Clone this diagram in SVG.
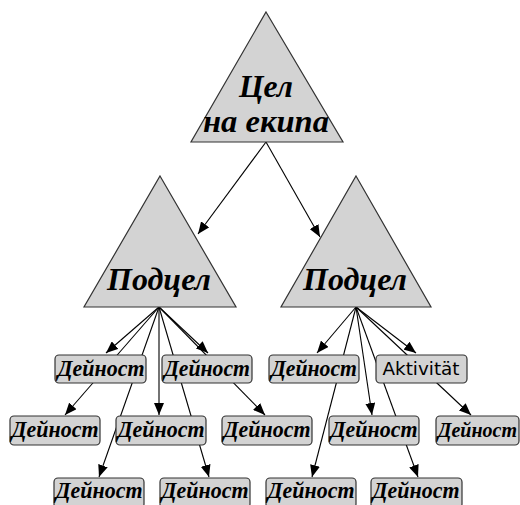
<svg xmlns="http://www.w3.org/2000/svg" width="520" height="505" viewBox="0 0 520 505">
<defs>
<style>
.tri{fill:#d3d3d3;stroke:#333;stroke-width:1.2}
.box{fill:#d3d3d3;stroke:#333;stroke-width:1.2}
.big{font-family:"Liberation Serif","Times New Roman",serif;font-weight:bold;font-style:italic;font-size:32px;fill:#000;text-anchor:middle}
.act{font-family:"Liberation Serif","Times New Roman",serif;font-weight:bold;font-style:italic;font-size:24px;fill:#000;text-anchor:middle}
.sans{font-family:"DejaVu Sans",sans-serif;font-size:18px;fill:#000;text-anchor:middle}
.c{stroke:#000;stroke-width:1.1;fill:none;marker-end:url(#ah)}
</style>
<marker id="ah" markerUnits="userSpaceOnUse" markerWidth="12" markerHeight="10" viewBox="0 0 12 10" refX="12" refY="5" orient="auto">
<path d="M0,0 L12,5 L0,10 z" fill="#000"/>
</marker>
</defs>
<g id="connectors">
<line class="c" x1="266" y1="142" x2="198" y2="234"/>
<line class="c" x1="266" y1="142" x2="320" y2="237"/>
<line class="c" x1="159" y1="307" x2="106" y2="353"/>
<line class="c" x1="159" y1="307" x2="65" y2="415"/>
<line class="c" x1="159" y1="307" x2="99" y2="477"/>
<line class="c" x1="159" y1="307" x2="159" y2="415"/>
<line class="c" x1="159" y1="307" x2="209" y2="477"/>
<line class="c" x1="159" y1="307" x2="208" y2="353"/>
<line class="c" x1="159" y1="307" x2="265" y2="415"/>
<line class="c" x1="356" y1="307" x2="317" y2="353"/>
<line class="c" x1="356" y1="307" x2="312" y2="477"/>
<line class="c" x1="356" y1="307" x2="372" y2="415"/>
<line class="c" x1="356" y1="307" x2="418" y2="477"/>
<line class="c" x1="356" y1="307" x2="416" y2="353"/>
<line class="c" x1="356" y1="307" x2="471" y2="415"/>
</g>
<g id="goal">
<polygon class="tri" points="266,12 343,142 191,142"/>
<text class="big" x="266" y="97" textLength="54" lengthAdjust="spacingAndGlyphs">Цел</text>
<text class="big" x="266" y="132" textLength="126" lengthAdjust="spacingAndGlyphs">на екипа</text>
</g>
<g id="sub1">
<polygon class="tri" points="160,176 236,307 84,307"/>
<text class="big" x="159" y="290" textLength="104" lengthAdjust="spacingAndGlyphs">Подцел</text>
</g>
<g id="sub2">
<polygon class="tri" points="356,176 431,307 281,307"/>
<text class="big" x="355" y="290" textLength="104" lengthAdjust="spacingAndGlyphs">Подцел</text>
</g>
<g id="a1"><rect class="box" x="55" y="355" width="91" height="28" rx="4"/><text class="act" x="101" y="376" textLength="87" lengthAdjust="spacingAndGlyphs">Дейност</text></g>
<g id="a2"><rect class="box" x="162" y="355" width="90" height="28" rx="4"/><text class="act" x="207" y="376" textLength="86" lengthAdjust="spacingAndGlyphs">Дейност</text></g>
<g id="a3"><rect class="box" x="269" y="355" width="90" height="28" rx="4"/><text class="act" x="314" y="376" textLength="86" lengthAdjust="spacingAndGlyphs">Дейност</text></g>
<g id="a4"><rect class="box" x="376" y="355" width="91" height="28" rx="4"/><text class="sans" x="421" y="375" textLength="77" lengthAdjust="spacingAndGlyphs">Aktivität</text></g>
<g id="b1"><rect class="box" x="10" y="416" width="90" height="29" rx="4"/><text class="act" x="55" y="437" textLength="87" lengthAdjust="spacingAndGlyphs">Дейност</text></g>
<g id="b2"><rect class="box" x="116" y="416" width="90" height="29" rx="4"/><text class="act" x="161" y="437" textLength="87" lengthAdjust="spacingAndGlyphs">Дейност</text></g>
<g id="b3"><rect class="box" x="222" y="416" width="90" height="29" rx="4"/><text class="act" x="267" y="437" textLength="87" lengthAdjust="spacingAndGlyphs">Дейност</text></g>
<g id="b4"><rect class="box" x="329" y="416" width="90" height="29" rx="4"/><text class="act" x="374" y="437" textLength="87" lengthAdjust="spacingAndGlyphs">Дейност</text></g>
<g id="b5"><rect class="box" x="436" y="416" width="83" height="29" rx="4"/><text class="act" x="517" y="437" style="font-size:20px;text-anchor:end">Дейност</text></g>
<g id="c1"><rect class="box" x="54" y="478" width="90" height="30" rx="4"/><text class="act" x="99" y="498" textLength="87" lengthAdjust="spacingAndGlyphs">Дейност</text></g>
<g id="c2"><rect class="box" x="160" y="478" width="90" height="30" rx="4"/><text class="act" x="205" y="498" textLength="87" lengthAdjust="spacingAndGlyphs">Дейност</text></g>
<g id="c3"><rect class="box" x="266" y="478" width="90" height="30" rx="4"/><text class="act" x="311" y="498" textLength="87" lengthAdjust="spacingAndGlyphs">Дейност</text></g>
<g id="c4"><rect class="box" x="371" y="478" width="91" height="30" rx="4"/><text class="act" x="416" y="498" textLength="87" lengthAdjust="spacingAndGlyphs">Дейност</text></g>
</svg>
